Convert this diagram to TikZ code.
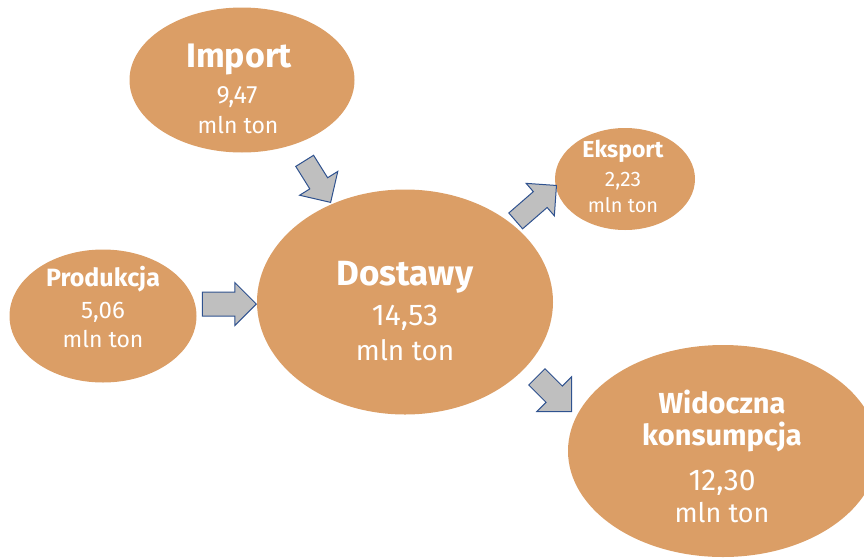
\documentclass[tikz,border=0pt]{standalone}
\usepackage{fontspec}
\setmainfont{Fira Sans}
\usetikzlibrary{shapes.geometric,shapes.arrows}
\definecolor{ovalorange}{RGB}{219,158,102}
\definecolor{arrowgray}{RGB}{191,191,191}
\definecolor{arrowblue}{RGB}{47,82,143}

\tikzset{
  oval/.style={ellipse, fill=ovalorange, inner sep=0pt},
  txt/.style={white, anchor=base, inner sep=0pt},
  flow/.style={single arrow, draw=arrowblue, fill=arrowgray, line width=1pt,
    inner xsep=0pt, inner ysep=10pt, single arrow head extend=12pt, anchor=tip}
}

\begin{document}
\begin{tikzpicture}[x=1pt,y=-1pt]
  \useasboundingbox (0,0) rectangle (864,557);
  \clip (0,0) rectangle (864,557);
  % ellipses
  \node[oval, minimum width=225pt, minimum height=145pt] (import) at (242,80) {};
  \node[oval, minimum width=187pt, minimum height=133pt] (prod) at (103,316) {};
  \node[oval, minimum width=296pt, minimum height=225pt] (dost) at (405,302) {};
  \node[oval, minimum width=140pt, minimum height=102pt] (eksp) at (625,179) {};
  \node[oval, minimum width=310pt, minimum height=212pt] (konsum) at (723,451) {};
  % texts
  \node[txt, font=\fontsize{34}{40}\selectfont\bfseries] (import-t) at (239,67) {Import};
  \node[txt, font=\fontsize{25}{28}\selectfont] (import-v) at (237,103) {9,47};
  \node[txt, font=\fontsize{23}{28}\selectfont] (import-u) at (238,133) {mln ton};
  \node[txt, font=\fontsize{25}{30}\selectfont\bfseries] (prod-t) at (103,286) {Produkcja};
  \node[txt, font=\fontsize{24}{28}\selectfont] (prod-v) at (103,318) {5,06};
  \node[txt, font=\fontsize{23}{28}\selectfont] (prod-u) at (103,347) {mln ton};
  \node[txt, font=\fontsize{35}{40}\selectfont\bfseries] (dost-t) at (405,285) {Dostawy};
  \node[txt, font=\fontsize{30}{32}\selectfont] (dost-v) at (405,325) {14,53};
  \node[txt, font=\fontsize{28}{32}\selectfont] (dost-u) at (405,360) {mln ton};
  \node[txt, font=\fontsize{23}{26}\selectfont\bfseries] (eksp-t) at (623,157) {Eksport};
  \node[txt, font=\fontsize{21}{22}\selectfont] (eksp-v) at (623,186) {2,23};
  \node[txt, font=\fontsize{20}{22}\selectfont] (eksp-u) at (623,212) {mln ton};
  \node[txt, font=\fontsize{29}{34}\selectfont\bfseries] (konsum-t) at (722,413) {Widoczna};
  \node[txt, font=\fontsize{29}{34}\selectfont\bfseries] (konsum-s) at (722,445) {konsumpcja};
  \node[txt, font=\fontsize{30}{30}\selectfont] (konsum-v) at (722,490) {12,30};
  \node[txt, font=\fontsize{27}{30}\selectfont] (konsum-u) at (722,522) {mln ton};
  % arrows
  \node[flow, rotate=-58, minimum height=49pt] (a-import) at (331,203) {};
  \node[flow, rotate=0, minimum height=54pt, inner ysep=11.5pt, single arrow head extend=9.5pt] (a-prod) at (257,304) {};
  \node[flow, rotate=41, minimum height=54pt, single arrow head extend=11pt] (a-eksp) at (557,185) {};
  \node[flow, rotate=-45, minimum height=49pt, inner ysep=11pt, single arrow head extend=13pt] (a-konsum) at (572,412) {};
\end{tikzpicture}
\end{document}
